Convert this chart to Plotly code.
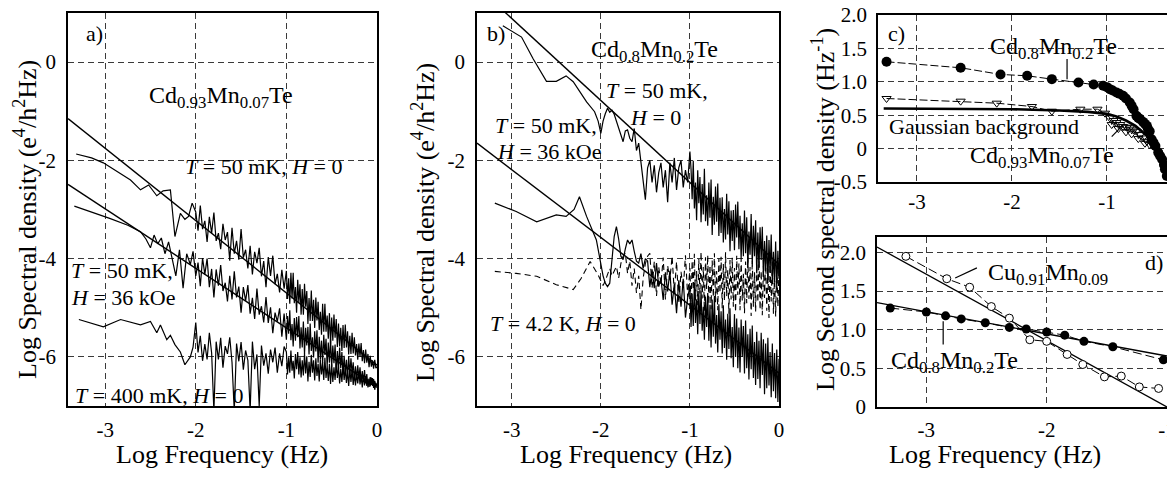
import plotly.graph_objects as go

FONT = "Liberation Serif"

# ---------------- log-frequency grids for the noisy parts ----------------
NX_C = [-2.000, -1.975, -1.950, -1.925, -1.900, -1.875, -1.850, -1.825, -1.800, -1.775,
        -1.750, -1.725, -1.700, -1.675, -1.650, -1.625, -1.600, -1.575, -1.550, -1.525,
        -1.500, -1.475, -1.450, -1.425, -1.400, -1.375, -1.350, -1.325, -1.300, -1.275,
        -1.250, -1.225, -1.200, -1.175, -1.150, -1.125, -1.100, -1.075, -1.050, -1.025]
NX_F = [-1.0000, -0.9875, -0.9750, -0.9625, -0.9500, -0.9375, -0.9250, -0.9125, -0.9000, -0.8875,
        -0.8750, -0.8625, -0.8500, -0.8375, -0.8250, -0.8125, -0.8000, -0.7875, -0.7750, -0.7625,
        -0.7500, -0.7375, -0.7250, -0.7125, -0.7000, -0.6875, -0.6750, -0.6625, -0.6500, -0.6375,
        -0.6250, -0.6125, -0.6000, -0.5875, -0.5750, -0.5625, -0.5500, -0.5375, -0.5250, -0.5125,
        -0.5000, -0.4875, -0.4750, -0.4625, -0.4500, -0.4375, -0.4250, -0.4125, -0.4000, -0.3875,
        -0.3750, -0.3625, -0.3500, -0.3375, -0.3250, -0.3125, -0.3000, -0.2875, -0.2750, -0.2625,
        -0.2500, -0.2375, -0.2250, -0.2125, -0.2000, -0.1875, -0.1750, -0.1625, -0.1500, -0.1375,
        -0.1250, -0.1125, -0.1000, -0.0875, -0.0750, -0.0625, -0.0500, -0.0375, -0.0250, -0.0125,
        0.0000]

# ---------------- panel a : Cd0.93Mn0.07Te ----------------
A1_PRE_X = [-3.32, -3.15, -3.02, -2.88, -2.72, -2.61, -2.52, -2.43, -2.36, -2.28, -2.23, -2.17, -2.12, -2.08, -2.04]
A1_PRE_Y = [-1.87, -1.95, -2.05, -2.22, -2.40, -2.60, -2.50, -2.72, -2.62, -2.60, -3.55, -3.08, -3.20, -3.14, -2.87]
A1_C = [-3.05, -3.43, -2.92, -3.40, -3.23, -3.66, -3.15, -3.48, -3.06, -3.64,
        -3.48, -3.81, -3.29, -3.62, -3.46, -4.04, -3.37, -3.90, -3.64, -4.02,
        -3.40, -3.98, -3.82, -4.20, -3.74, -4.32, -3.86, -4.09, -3.78, -4.36,
        -4.05, -4.58, -3.97, -4.35, -3.94, -4.52, -4.31, -4.69, -4.23, -4.61]
A1_F = [-4.25, -4.82, -4.40, -4.92, -4.29, -4.81, -4.29, -4.91, -4.58, -5.10,
        -4.43, -4.90, -4.52, -5.14, -4.62, -5.14, -4.51, -4.98, -4.66, -5.33,
        -4.80, -5.27, -4.65, -5.27, -4.84, -5.41, -4.79, -5.26, -4.88, -5.45,
        -5.08, -5.55, -4.92, -5.49, -4.92, -5.49, -5.16, -5.63, -5.11, -5.73,
        -5.20, -5.67, -5.14, -5.61, -5.23, -5.80, -5.32, -5.79, -5.41, -5.88,
        -5.35, -5.82, -5.34, -5.81, -5.48, -5.95, -5.57, -5.94, -5.51, -5.93,
        -5.60, -5.97, -5.74, -6.06, -5.73, -6.00, -5.72, -6.09, -5.86, -6.13,
        -5.85, -6.12, -5.94, -6.21, -5.98, -6.20, -6.07, -6.24, -6.06, -6.23, -6.20]

A2_PRE_X = [-3.34, -3.15, -2.95, -2.75, -2.61, -2.55, -2.50, -2.46, -2.42, -2.38, -2.34, -2.30, -2.26, -2.22, -2.18, -2.14, -2.10, -2.06, -2.03]
A2_PRE_Y = [-2.93, -3.05, -3.18, -3.32, -3.45, -3.60, -3.78, -3.52, -3.70, -3.58, -3.90, -3.66, -3.98, -4.35, -3.82, -4.60, -3.90, -4.12, -3.85]
A2_C = [-4.35, -4.08, -4.56, -3.99, -4.32, -4.00, -4.58, -4.21, -4.79, -4.22,
        -4.55, -4.13, -4.66, -4.49, -4.87, -4.35, -4.83, -4.26, -4.79, -4.57,
        -5.10, -4.58, -4.86, -4.54, -5.12, -4.80, -5.23, -4.61, -5.14, -4.97,
        -5.30, -4.78, -5.31, -4.99, -5.52, -5.10, -5.28, -5.01, -5.59, -5.12]
A2_F = [-5.65, -5.17, -5.53, -5.05, -5.66, -5.33, -5.79, -5.21, -5.67, -5.19,
        -5.60, -5.17, -5.83, -5.40, -5.81, -5.28, -5.94, -5.41, -5.77, -5.39,
        -5.95, -5.32, -5.88, -5.60, -6.01, -5.48, -5.89, -5.46, -6.12, -5.59,
        -6.05, -5.67, -6.13, -5.55, -5.96, -5.63, -6.19, -5.71, -6.12, -5.64,
        -6.20, -5.77, -6.13, -5.75, -6.32, -5.88, -6.25, -5.81, -6.23, -5.90,
        -6.36, -5.98, -6.35, -6.06, -6.43, -5.99, -6.36, -6.03, -6.34, -6.11,
        -6.48, -6.19, -6.46, -6.17, -6.44, -6.21, -6.52, -6.29, -6.51, -6.27,
        -6.54, -6.35, -6.62, -6.44, -6.60, -6.42, -6.59, -6.45, -6.67, -6.53, -6.60]

A3_PRE_X = [-3.29, -3.02, -2.83, -2.61, -2.50, -2.43, -2.39, -2.32, -2.28, -2.23, -2.17, -2.12, -2.06, -2.03]
A3_PRE_Y = [-5.24, -5.39, -5.24, -5.35, -5.28, -5.51, -5.35, -5.65, -5.56, -5.75, -5.90, -6.16, -6.00, -5.80]
A3_C = [-5.30, -5.91, -5.57, -6.08, -5.74, -6.05, -5.51, -5.92, -7.10, -5.69,
        -6.05, -5.61, -6.22, -5.78, -5.94, -5.60, -6.11, -7.10, -5.73, -6.09,
        -5.70, -6.26, -5.87, -6.07, -7.10, -5.69, -6.25, -5.95, -7.00, -5.77,
        -6.18, -5.93, -6.34, -5.85, -6.11, -5.81, -6.32, -5.93, -6.19, -5.79]
A3_F = [-5.90, -6.36, -6.01, -6.32, -5.87, -6.28, -6.08, -6.44, -5.94, -6.25,
        -5.90, -6.36, -6.01, -6.42, -6.07, -6.38, -5.93, -6.34, -5.99, -6.50,
        -6.10, -6.41, -5.96, -6.32, -6.07, -6.48, -6.03, -6.39, -6.14, -6.50,
        -6.05, -6.36, -6.11, -6.47, -6.02, -6.43, -6.18, -6.49, -6.14, -6.55,
        -6.15, -6.51, -6.21, -6.47, -6.13, -6.43, -6.19, -6.54, -6.25, -6.51,
        -6.16, -6.47, -6.23, -6.53, -6.29, -6.59, -6.25, -6.51, -6.26, -6.57,
        -6.33, -6.58, -6.34, -6.54, -6.30, -6.56, -6.36, -6.62, -6.38, -6.58,
        -6.39, -6.59, -6.45, -6.61, -6.41, -6.57, -6.43, -6.63, -6.49, -6.59, -6.55]

FIT_A1_X = [-3.41, 0.0]
FIT_A1_Y = [-1.15, -6.17]
FIT_A2_X = [-3.41, 0.0]
FIT_A2_Y = [-2.49, -6.62]

# ---------------- panel b : Cd0.8Mn0.2Te ----------------
B1_PRE_X = [-3.10, -2.89, -2.76, -2.61, -2.50, -2.39, -2.31, -2.16, -2.07, -2.03]
B1_PRE_Y = [0.74, 0.51, 0.07, -0.39, -0.39, -0.28, -0.40, -0.81, -1.01, -1.20]
B1_C = [-1.45, -1.20, -1.05, -0.94, -1.02, -0.98, -1.06, -1.20, -1.35, -1.50,
        -1.62, -1.40, -1.38, -1.55, -1.62, -1.35, -1.80, -1.65, -2.05, -2.45,
        -2.80, -2.15, -2.00, -2.45, -2.10, -2.65, -2.25, -2.05, -2.55, -2.20,
        -2.85, -2.05, -2.45, -1.95, -2.60, -2.15, -2.00, -2.55, -2.20, -2.45]
B1_F = [-1.82, -2.17, -2.79, -2.01, -2.98, -2.45, -3.22, -2.20, -2.87, -2.34,
        -3.26, -2.48, -3.10, -2.17, -3.24, -2.71, -3.33, -2.45, -3.17, -2.39,
        -3.52, -2.74, -3.31, -2.53, -3.25, -2.47, -3.54, -2.76, -3.48, -2.75,
        -3.67, -2.99, -3.61, -2.68, -3.51, -2.83, -3.85, -3.02, -3.64, -3.01,
        -3.83, -2.90, -3.57, -2.84, -3.81, -3.13, -4.00, -3.28, -3.95, -3.02,
        -3.89, -3.16, -4.18, -3.45, -3.92, -3.09, -4.11, -3.33, -3.95, -3.22,
        -4.30, -3.47, -4.19, -3.36, -4.03, -3.35, -4.37, -3.64, -4.26, -3.53,
        -4.50, -3.62, -4.29, -3.51, -4.49, -3.86, -4.48, -3.65, -4.62, -3.84, -4.41]

B2_PRE_X = [-3.19, -2.95, -2.72, -2.50, -2.39, -2.30, -2.24, -2.16, -2.05]
B2_PRE_Y = [-2.87, -3.04, -3.25, -3.11, -3.14, -3.00, -2.74, -3.14, -3.62]
B2_C = [-4.10, -4.35, -4.50, -4.57, -4.50, -4.05, -3.55, -3.35, -3.60, -3.95,
        -4.02, -3.80, -3.62, -3.70, -3.62, -3.85, -4.05, -4.09, -3.90, -4.20,
        -4.00, -4.05, -4.58, -4.22, -4.60, -4.09, -4.57, -4.41, -4.84, -4.28,
        -4.67, -4.25, -4.94, -4.52, -5.11, -4.44, -4.98, -4.41, -5.20, -4.79]
B2_F = [-4.57, -5.39, -4.71, -5.37, -4.49, -5.31, -4.83, -5.54, -4.66, -5.33,
        -4.65, -5.47, -4.98, -5.65, -4.77, -5.39, -4.70, -5.67, -4.94, -5.81,
        -4.83, -5.59, -4.76, -5.73, -5.15, -5.91, -4.93, -5.65, -5.07, -5.93,
        -4.95, -5.82, -5.24, -6.06, -5.12, -5.84, -5.01, -6.03, -5.39, -6.21,
        -5.13, -6.00, -5.22, -6.23, -5.40, -6.32, -5.24, -6.00, -5.37, -6.34,
        -5.26, -6.23, -5.54, -6.46, -5.43, -6.25, -5.36, -6.43, -5.70, -6.57,
        -5.49, -6.45, -5.67, -6.64, -5.51, -6.37, -5.64, -6.76, -5.73, -6.64,
        -5.61, -6.58, -5.90, -6.82, -5.73, -6.70, -5.92, -6.84, -5.85, -6.92, -6.04]

B3_PRE_X = [-3.19, -2.95, -2.72, -2.50, -2.31, -2.22, -2.12, -2.03]
B3_PRE_Y = [-4.26, -4.30, -4.36, -4.53, -4.63, -4.40, -4.06, -4.33]
B3_C = [-4.45, -4.55, -4.45, -4.30, -4.20, -4.35, -4.25, -4.16, -4.40, -4.10,
        -3.95, -3.89, -4.30, -4.05, -4.55, -4.20, -4.70, -4.35, -5.04, -4.40,
        -4.10, -3.95, -3.89, -4.60, -4.06, -4.76, -4.17, -4.52, -3.98, -4.83,
        -4.14, -4.44, -3.95, -4.70, -4.06, -4.91, -4.27, -4.62, -3.93, -4.78]
B3_F = [-4.19, -4.99, -4.04, -4.64, -3.90, -4.85, -4.25, -4.95, -4.01, -4.71,
        -3.86, -4.81, -4.17, -5.07, -3.97, -4.62, -3.93, -4.93, -4.13, -5.03,
        -4.04, -4.79, -3.89, -4.89, -4.25, -5.05, -4.00, -4.70, -3.96, -5.01,
        -4.11, -4.86, -3.87, -4.77, -4.22, -5.12, -4.03, -4.83, -3.98, -4.98,
        -4.19, -5.09, -3.94, -4.74, -4.10, -5.05, -4.00, -4.85, -4.31, -5.11,
        -4.06, -4.91, -3.97, -4.82, -4.17, -5.17, -4.03, -4.98, -4.28, -5.08,
        -4.09, -4.89, -3.94, -5.04, -4.25, -5.15, -4.15, -4.80, -4.01, -5.06,
        -4.21, -5.21, -4.12, -4.87, -4.07, -5.12, -4.33, -5.18, -4.13, -4.98, -4.24]

FIT_B1_X = [-3.39, 0.0]
FIT_B1_Y = [1.54, -4.12]
FIT_B2_X = [-3.39, 0.0]
FIT_B2_Y = [-1.65, -6.33]

# ---------------- panel c : second spectra ----------------
C_CIRC_X = [-3.32, -2.54, -2.12, -1.84, -1.58, -1.30, -1.14, -1.04, -1.00, -0.97, -0.94, -0.90, -0.87,
            -0.83, -0.80, -0.76, -0.74, -0.72, -0.69, -0.67, -0.65, -0.62, -0.60, -0.58, -0.57, -0.55,
            -0.53, -0.51, -0.49, -0.46, -0.44, -0.42, -0.40, -0.39, -0.37]
C_CIRC_Y = [1.30, 1.21, 1.11, 1.09, 1.04, 0.99, 0.96, 0.94, 0.92, 0.89, 0.87, 0.84, 0.82,
            0.79, 0.75, 0.69, 0.64, 0.59, 0.49, 0.46, 0.44, 0.40, 0.37, 0.34, 0.30, 0.26,
            0.14, 0.09, 0.04, -0.06, -0.11, -0.16, -0.24, -0.31, -0.41]
C_TRI_X = [-3.32, -2.54, -2.16, -1.79, -1.58, -1.28, -1.10, -1.02, -0.97, -0.95, -0.93, -0.90, -0.88,
           -0.86, -0.83, -0.80, -0.79, -0.76, -0.74, -0.72, -0.69, -0.67, -0.65, -0.62, -0.60, -0.58, -0.55]
C_TRI_Y = [0.75, 0.71, 0.68, 0.63, 0.56, 0.59, 0.59, 0.53, 0.46, 0.36, 0.42, 0.39, 0.30,
           0.36, 0.33, 0.25, 0.32, 0.31, 0.22, 0.28, 0.26, 0.15, 0.21, 0.16, 0.08, 0.11, 0.06]
C_GAUSS_X = [-3.35, -2.5, -2.0, -1.5, -1.2, -1.0, -0.9, -0.8, -0.7, -0.6, -0.5]
C_GAUSS_Y = [0.60, 0.60, 0.59, 0.57, 0.55, 0.52, 0.48, 0.42, 0.34, 0.22, 0.08]

# ---------------- panel d ----------------
D_OPEN_X = [-3.17, -2.83, -2.64, -2.46, -2.31, -2.14, -2.00, -1.83, -1.70, -1.52, -1.38, -1.23, -1.07]
D_OPEN_Y = [1.95, 1.66, 1.55, 1.30, 1.15, 0.87, 0.85, 0.68, 0.55, 0.39, 0.40, 0.26, 0.24]
D_FILL_X = [-3.30, -3.00, -2.84, -2.71, -2.51, -2.31, -2.17, -2.00, -1.85, -1.69, -1.45, -1.03]
D_FILL_Y = [1.28, 1.23, 1.18, 1.14, 1.09, 1.03, 1.01, 0.97, 0.93, 0.85, 0.78, 0.61]
FIT_CU_X = [-3.41, -1.0]
FIT_CU_Y = [2.07, 0.0]
FIT_CD_X = [-3.41, -1.0]
FIT_CD_Y = [1.35, 0.66]

# ---------------- tick labels ----------------
AB_XTICKS = [-3, -2, -1, 0]
AB_XTEXT = ["-3", "-2", "-1", "0"]
AB_YTICKS = [0, -2, -4, -6]
AB_YTEXT = ["0", "-2", "-4", "-6"]
C_XTICKS = [-3, -2, -1]
C_XTEXT = ["-3", "-2", "-1"]
C_YTICKS = [2.0, 1.5, 1.0, 0.5, 0, -0.5]
C_YTEXT = ["2.0", "1.5", "1.0", "0.5", "0", "-0.5"]
D_XTICKS = [-3, -2, -1]
D_XTEXT = ["-3", "-2", "-1"]
D_YTICKS = [2.0, 1.5, 1.0, 0.5, 0]
D_YTEXT = ["2.0", "1.5", "1.0", "0.5", "0"]

fig = go.Figure()


def add_line(x, y, ax, width=1.0, dash=None):
    fig.add_trace(go.Scatter(x=x, y=y, mode="lines", xaxis="x" + ax, yaxis="y" + ax,
                             line=dict(color="black", width=width, dash=dash),
                             showlegend=False, hoverinfo="skip"))


NXALL = NX_C + NX_F
NOISE_W = 1.2

# panel a
add_line(A1_PRE_X + NXALL, A1_PRE_Y + A1_C + A1_F, "", NOISE_W)
add_line(A2_PRE_X + NXALL, A2_PRE_Y + A2_C + A2_F, "", NOISE_W)
add_line(A3_PRE_X + NXALL, A3_PRE_Y + A3_C + A3_F, "", NOISE_W)
add_line(FIT_A1_X, FIT_A1_Y, "", 1.4)
add_line(FIT_A2_X, FIT_A2_Y, "", 1.4)

# panel b
add_line(B1_PRE_X + NXALL, B1_PRE_Y + B1_C + B1_F, "2", NOISE_W)
add_line(B2_PRE_X + NXALL, B2_PRE_Y + B2_C + B2_F, "2", NOISE_W)
add_line(B3_PRE_X + NXALL, B3_PRE_Y + B3_C + B3_F, "2", 1.1, "6px,4px")
add_line(FIT_B1_X, FIT_B1_Y, "2", 1.4)
add_line(FIT_B2_X, FIT_B2_Y, "2", 1.4)

# panel c
add_line(C_GAUSS_X, C_GAUSS_Y, "3", 2.6)
fig.add_trace(go.Scatter(x=C_TRI_X, y=C_TRI_Y, mode="lines+markers", xaxis="x3", yaxis="y3",
                         line=dict(color="black", width=1, dash="8px,3px"),
                         marker=dict(symbol="triangle-down-open", size=8, color="black", line=dict(width=1)),
                         showlegend=False, hoverinfo="skip"))
fig.add_trace(go.Scatter(x=C_CIRC_X, y=C_CIRC_Y, mode="lines+markers", xaxis="x3", yaxis="y3",
                         line=dict(color="black", width=1, dash="8px,3px"),
                         marker=dict(symbol="circle", size=10, color="black"),
                         showlegend=False, hoverinfo="skip"))

# panel d
add_line(FIT_CU_X, FIT_CU_Y, "4", 1.3)
add_line(FIT_CD_X, FIT_CD_Y, "4", 1.3)
fig.add_trace(go.Scatter(x=D_OPEN_X, y=D_OPEN_Y, mode="lines+markers", xaxis="x4", yaxis="y4",
                         line=dict(color="black", width=1, dash="9px,4px"),
                         marker=dict(symbol="circle", size=8, color="white", line=dict(color="black", width=1)),
                         showlegend=False, hoverinfo="skip"))
fig.add_trace(go.Scatter(x=D_FILL_X, y=D_FILL_Y, mode="lines+markers", xaxis="x4", yaxis="y4",
                         line=dict(color="black", width=1, dash="9px,4px"),
                         marker=dict(symbol="circle", size=9, color="black"),
                         showlegend=False, hoverinfo="skip"))

W, H = 1167, 477


def px_x(p):
    return p / W


def px_y(p):
    return 1 - p / H


def ax_style(tickvals, ticktext, rng, dom, anchor, ticklen, mirror=True):
    return dict(range=rng, domain=dom, anchor=anchor, tickvals=tickvals, ticktext=ticktext,
                showline=True, linecolor="black", linewidth=1.5, mirror=mirror,
                showgrid=True, gridcolor="#3a3a3a", gridwidth=1, griddash="6px,4px",
                zeroline=False, ticks="outside", ticklen=ticklen, tickcolor="rgba(0,0,0,0)",
                tickfont=dict(family=FONT, size=21, color="black"), ticklabeloverflow="allow",
                automargin=False)


layout = dict(
    width=W, height=H, autosize=False, margin=dict(l=0, r=0, t=0, b=0, pad=0, autoexpand=False),
    paper_bgcolor="white", plot_bgcolor="white",
    font=dict(family=FONT, color="black"),
    xaxis=ax_style(AB_XTICKS, AB_XTEXT, [-3.41, 0], [px_x(68), px_x(377)], "y", 4),
    yaxis=ax_style(AB_YTICKS, AB_YTEXT, [-7, 1], [px_y(406), px_y(13)], "x", 6),
    xaxis2=ax_style(AB_XTICKS, AB_XTEXT, [-3.39, 0], [px_x(477), px_x(779)], "y2", 4),
    yaxis2=ax_style(AB_YTICKS, AB_YTEXT, [-7, 1], [px_y(406), px_y(13)], "x2", 6),
    xaxis3=ax_style(C_XTICKS, C_XTEXT, [-3.41, -0.368], [px_x(878), 1.0], "y3", 0),
    yaxis3=ax_style(C_YTICKS, C_YTEXT, [-0.5, 2.0], [px_y(182), px_y(15)], "x3", 5, mirror=False),
    xaxis4=ax_style(D_XTICKS, D_XTEXT, [-3.41, -1.0], [px_x(877), 1.0], "y4", 3),
    yaxis4=ax_style(D_YTICKS, D_YTEXT, [0, 2.2], [px_y(407), px_y(237)], "x4", 5, mirror=False),
)
fig.update_layout(**layout)

ann = []


def note(text, x, y, ax, size=22, xanchor="center"):
    ann.append(dict(text=text, x=x, y=y, xref="x" + ax, yref="y" + ax, showarrow=False,
                    xanchor=xanchor, yanchor="middle", font=dict(family=FONT, size=size, color="black")))


# panel a texts
note("a)", -3.12, 0.59, "", 22)
note("Cd<sub>0.93</sub>Mn<sub>0.07</sub>Te", -1.72, -0.72, "", 24)
note("<i>T</i> = 50 mK, <i>H</i> = 0", -1.25, -2.13, "", 22)
note("<i>T</i> = 50 mK,", -3.40, -4.25, "", 22, "left")
note("<i>H</i> = 36 kOe", -3.40, -4.80, "", 22, "left")
note("<i>T</i> = 400 mK, <i>H</i> = 0", -3.36, -6.79, "", 22, "left")
# panel b texts
note("b)", -3.18, 0.59, "2", 22)
note("Cd<sub>0.8</sub>Mn<sub>0.2</sub>Te", -1.40, 0.22, "2", 24)
note("<i>T</i> = 50 mK,", -1.37, -0.57, "2", 22)
note("<i>H</i> = 0", -1.39, -1.12, "2", 22)
note("<i>T</i> = 50 mK,", -2.62, -1.28, "2", 22)
note("<i>H</i> = 36 kOe", -2.58, -1.81, "2", 22)
note("<i>T</i> = 4.2 K, <i>H</i> = 0", -2.43, -5.33, "2", 22)
# panel c texts
note("c)", -3.22, 1.73, "3", 22)
note("Cd<sub>0.8</sub>Mn<sub>0.2</sub>Te", -1.56, 1.50, "3", 24)
note("Gaussian background", -2.29, 0.33, "3", 22)
note("Cd<sub>0.93</sub>Mn<sub>0.07</sub>Te", -1.68, -0.12, "3", 24)
# panel d texts
note("Cu<sub>0.91</sub>Mn<sub>0.09</sub>", -1.99, 1.72, "4", 24)
note("d)", -1.11, 1.87, "4", 22)
note("Cd<sub>0.8</sub>Mn<sub>0.2</sub>Te", -2.77, 0.58, "4", 24)

# axis titles
TITLE_SIZE = 26


def paper_note(text, cx, cy, angle=0):
    ann.append(dict(text=text, x=px_x(cx), y=px_y(cy), xref="paper", yref="paper", textangle=angle,
                    xanchor="center", yanchor="middle", showarrow=False,
                    font=dict(family=FONT, size=TITLE_SIZE, color="black")))


paper_note("Log Spectral density (e<sup>4</sup>/h<sup>2</sup>Hz)", 25, 220, -90)
paper_note("Log Spectral density (e<sup>4</sup>/h<sup>2</sup>Hz)", 423, 222, -90)
paper_note("Log Second spectral density (Hz<sup>-1</sup>)", 823, 210, -90)
for cx in (222, 626, 995):
    paper_note("Log Frequency (Hz)", cx, 454)

fig.update_layout(annotations=ann)

# pointer lines
shapes = [
    dict(type="line", xref="x3", yref="y3", x0=-1.42, y0=1.34, x1=-1.42, y1=1.04, line=dict(color="black", width=1.2)),
    dict(type="line", xref="x3", yref="y3", x0=-0.95, y0=0.18, x1=-0.86, y1=0.31, line=dict(color="black", width=1.2)),
    dict(type="line", xref="x4", yref="y4", x0=-2.76, y0=1.67, x1=-2.58, y1=1.80, line=dict(color="black", width=1.2)),
    dict(type="line", xref="x4", yref="y4", x0=-2.86, y0=1.11, x1=-2.86, y1=0.81, line=dict(color="black", width=1.2)),
]
fig.update_layout(shapes=shapes)

fig.write_html("out.html", config={"displayModeBar": False},
               post_script="document.body.style.margin='0';document.body.style.overflow='hidden';")
